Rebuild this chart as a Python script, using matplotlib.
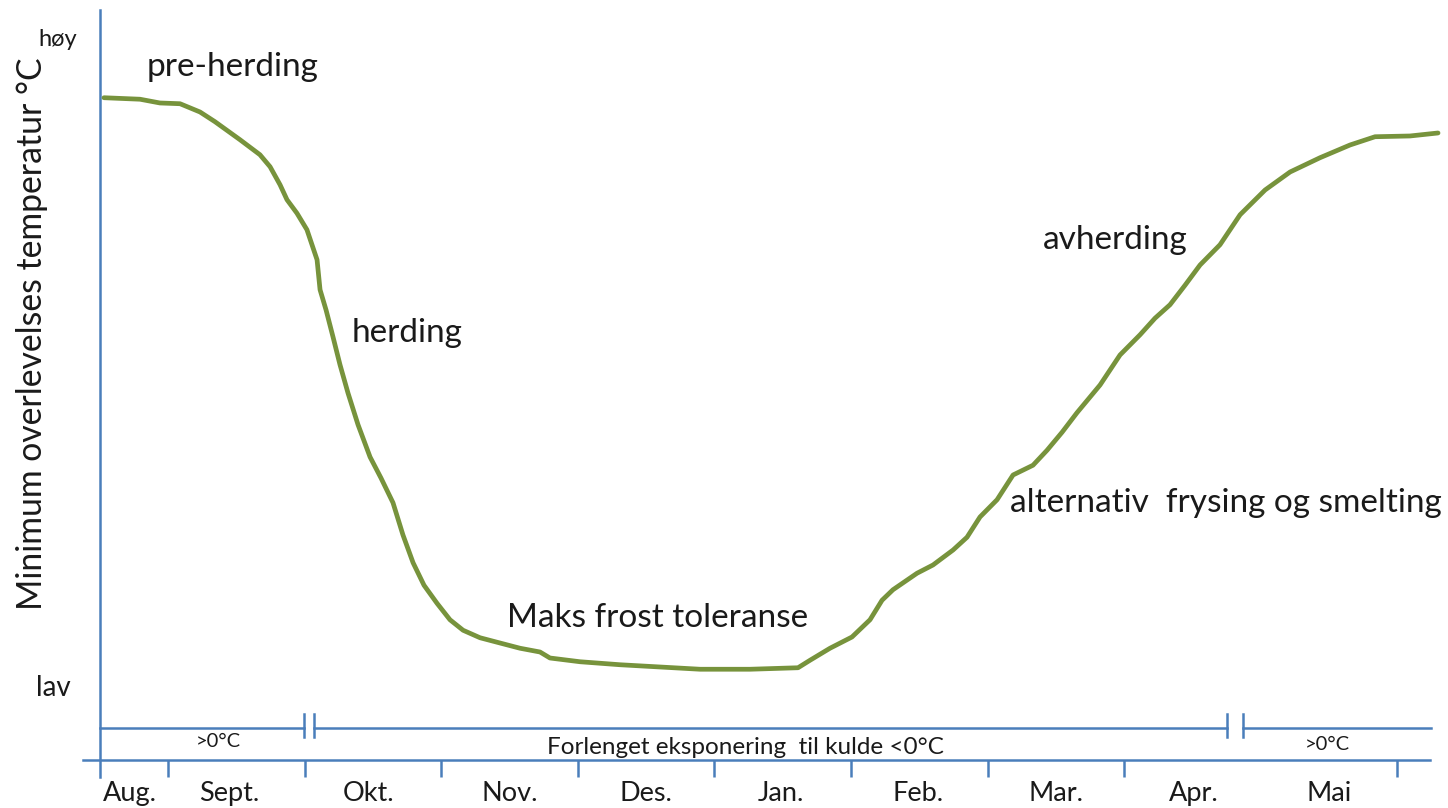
import matplotlib
matplotlib.use("Agg")
import matplotlib.pyplot as plt

plt.rcParams['font.family'] = ['Lato', 'DejaVu Sans']

# Months since 1 Aug (x) and relative frost hardiness index (y, arbitrary: lav -> høy)
months = [0.531, 0.795, 0.941, 1.088, 1.234, 1.344, 1.527, 1.673, 1.747, 1.820,
          1.871, 1.944, 2.017, 2.091, 2.113, 2.157, 2.208, 2.259, 2.318, 2.391,
          2.479, 2.559, 2.647, 2.720, 2.794, 2.874, 2.969, 3.064, 3.160, 3.284,
          3.430, 3.577, 3.723, 3.796, 4.016, 4.309, 4.602, 4.895, 5.261, 5.612,
          5.700, 5.846, 6.007, 6.139, 6.227, 6.307, 6.483, 6.600, 6.747, 6.849,
          6.944, 7.069, 7.186, 7.332, 7.435, 7.545, 7.654, 7.823, 7.969, 8.116,
          8.225, 8.335, 8.445, 8.555, 8.701, 8.848, 9.031, 9.214, 9.433, 9.653,
          9.836, 10.092, 10.297]
hardiness = [88.3, 88.1, 87.6, 87.5, 86.4, 85.1, 82.7, 80.7, 79.1, 76.7,
             74.7, 72.9, 70.7, 66.7, 62.7, 60.0, 56.4, 52.7, 48.9, 44.7,
             40.4, 37.6, 34.3, 30.0, 26.3, 23.3, 20.9, 18.7, 17.3, 16.3,
             15.6, 14.9, 14.4, 13.6, 13.1, 12.7, 12.4, 12.1, 12.1, 12.3,
             13.3, 14.9, 16.4, 18.7, 21.3, 22.7, 24.9, 26.0, 28.0, 29.7,
             32.4, 34.7, 38.0, 39.3, 41.3, 43.7, 46.3, 50.0, 54.0, 56.7,
             58.9, 60.7, 63.3, 66.0, 68.7, 72.7, 76.0, 78.4, 80.3, 82.0,
             83.1, 83.2, 83.6]

month_labels = ["Aug.", "Sept.", "Okt.", "Nov.", "Des.", "Jan.", "Feb.", "Mar.", "Apr.", "Mai"]
month_label_pos = [0.72, 1.45, 2.47, 3.50, 4.50, 5.49, 6.49, 7.50, 8.51, 9.50]
month_boundaries = [1, 2, 3, 4, 5, 6, 7, 8, 10]

phase_labels = ["pre-herding", "herding", "Maks frost toleranse", "avherding",
                "alternativ  frysing og smelting"]

periods = [(0.5, 1.996, ">0°C"),
           (2.069, 8.752, "Forlenget eksponering  til kulde <0°C"),
           (8.870, 10.246, ">0°C")]

BLUE = "#4A7EBB"
GREEN = "#77933C"
TXT = "#1a1a1a"

fig = plt.figure(figsize=(14.48, 8.08), dpi=100)
ax = fig.add_axes([0, 0, 1, 1])
ax.set_xlim(-0.2299, 10.370)
ax.set_ylim(-6.4, 101.33)

# axes spines
for s in ["top", "right"]:
    ax.spines[s].set_visible(False)
ax.spines["left"].set_position(("data", 0.5))
ax.spines["bottom"].set_position(("data", 0))
ax.spines["left"].set_bounds(-2.27, 100)
ax.spines["bottom"].set_bounds(0.378, 10.24)
for s in ["left", "bottom"]:
    ax.spines[s].set_color(BLUE)
    ax.spines[s].set_linewidth(1.8)
ax.set_yticks([])
ax.set_xticks(month_boundaries)
ax.set_xticklabels([])
ax.tick_params(axis="x", which="major", direction="out", length=12.2, width=1.8, color=BLUE)
ax.set_xticks(month_label_pos, minor=True)
ax.set_xticklabels(month_labels, minor=True, fontsize=19.5, color=TXT)
ax.tick_params(axis="x", which="minor", length=0, pad=15)

# curve
ax.plot(months, hardiness, color=GREEN, lw=3.4, solid_capstyle="round",
        solid_joinstyle="round", zorder=3)

# period brackets
by = 4.27
for i, (a, b, lab) in enumerate(periods):
    ax.plot([a, b], [by, by], color=BLUE, lw=1.8)
    if i > 0:
        ax.plot([a, a], [3.07, 6.13], color=BLUE, lw=1.8)
    if i < len(periods) - 1:
        ax.plot([b, b], [3.07, 6.13], color=BLUE, lw=1.8)
ax.text(1.366, 2.4, periods[0][2], fontsize=14.5, ha="center", va="center", color=TXT)
ax.text(5.224, 1.6, periods[1][2], fontsize=17.5, ha="center", va="center", color=TXT)
ax.text(9.485, 2.1, periods[2][2], fontsize=14.5, ha="center", va="center", color=TXT)

# phase labels
ax.text(1.476, 92.4, phase_labels[0], fontsize=24, ha="center", va="center", color=TXT)
ax.text(2.750, 56.9, phase_labels[1], fontsize=24, ha="center", va="center", color=TXT)
ax.text(4.587, 18.9, phase_labels[2], fontsize=24, ha="center", va="center", color=TXT)
ax.text(7.933, 69.3, phase_labels[3], fontsize=24, ha="center", va="center", color=TXT)
ax.text(7.164, 34.3, phase_labels[4], fontsize=24, ha="left", va="center", color=TXT)

# axis annotations
ax.text(0.004, 56.8, "Minimum overlevelses temperatur °C", rotation=90, fontsize=24.3,
        ha="center", va="center", color=TXT)
ax.text(0.195, 96.0, "høy", fontsize=17, ha="center", va="center", color=TXT)
ax.text(0.158, 9.6, "lav", fontsize=20, ha="center", va="center", color=TXT)

fig.savefig("out.png", dpi=100)
